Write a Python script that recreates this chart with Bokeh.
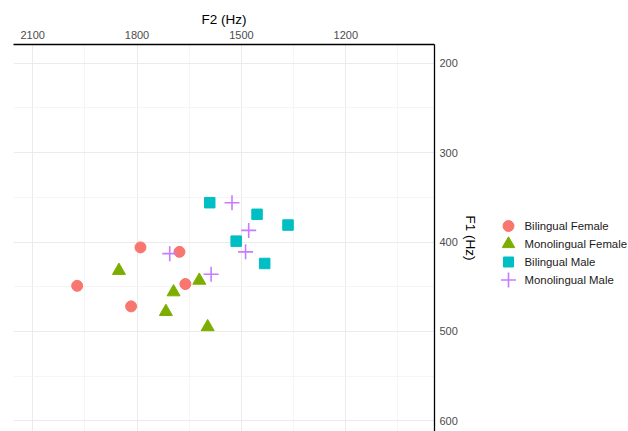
from bokeh.plotting import figure
from bokeh.models import Range1d, FixedTicker
from bokeh.layouts import row
from bokeh.core.properties import value
from bokeh.embed import file_html
from bokeh.resources import INLINE

# ---- data ----
groups = ["Bilingual Female", "Monolingual Female", "Bilingual Male", "Monolingual Male"]
bf_f2 = [1790, 1678, 1972, 1661, 1817]
bf_f1 = [406, 411, 449, 447, 472]
mf_f2 = [1852, 1695, 1621, 1717, 1597]
mf_f1 = [432, 456, 443, 478, 495]
bm_f2 = [1591, 1455, 1366, 1515, 1433]
bm_f1 = [356, 369, 381, 399, 424]
mm_f2 = [1527, 1479, 1488, 1706, 1587]
mm_f1 = [356, 387, 411, 413, 436]
f2_ticks = [2100, 1800, 1500, 1200]
f2_minor = [1950, 1650, 1350, 1050]
f1_ticks = [200, 300, 400, 500, 600]
f1_minor = [250, 350, 450, 550]

colors = ["#F8766D", "#7CAE00", "#00BFC4", "#C77CFF"]
markers = ["circle", "triangle", "square", "cross"]
sizes = [11, 13, 10.5, 15]
legend_sizes = [11, 12.5, 10, 15]

FONT = "Liberation Sans"
W1 = 480
W2 = 628 - W1
H = 431
TOP = 44

p = figure(width=W1, height=H,
           x_range=Range1d(2155, 945), y_range=Range1d(612, 179),
           x_axis_location="above", y_axis_location="right",
           output_backend="svg", toolbar_location=None,
           min_border_left=13, min_border_top=TOP, min_border_bottom=0,
           min_border_right=45)
p.outline_line_color = None
p.background_fill_color = "white"
p.border_fill_color = "white"

for ax, lab, ticks, minor in ((p.xaxis, "F2 (Hz)", f2_ticks, f2_minor),
                              (p.yaxis, "F1 (Hz)", f1_ticks, f1_minor)):
    ax.ticker = FixedTicker(ticks=ticks, minor_ticks=minor)
    ax.axis_label = lab
    ax.axis_label_text_font = FONT
    ax.axis_label_text_font_size = "13.5px"
    ax.axis_label_text_font_style = "normal"
    ax.axis_label_text_color = "black"
    ax.major_label_text_font = FONT
    ax.major_label_text_font_size = "11px"
    ax.major_label_text_color = "#4D4D4D"
    ax.major_tick_line_color = None
    ax.minor_tick_line_color = None
    ax.major_tick_out = 0
    ax.major_tick_in = 0
    ax.axis_line_color = "black"
    ax.axis_line_width = 1.3
p.xaxis.major_label_standoff = 2
p.xaxis.axis_label_standoff = 1
p.yaxis.major_label_standoff = 1
p.yaxis.axis_label_standoff = 2

for g in (p.xgrid, p.ygrid):
    g.grid_line_color = "#EBEBEB"
    g.grid_line_width = 1
    g.minor_grid_line_color = "#F3F3F3"
    g.minor_grid_line_width = 0.8

data = [(bf_f2, bf_f1), (mf_f2, mf_f1), (bm_f2, bm_f1), (mm_f2, mm_f1)]
for (xs, ys), c, m, s in zip(data, colors, markers, sizes):
    if m == "cross":
        p.scatter(xs, ys, marker=m, size=s, line_color=c, line_width=1.6)
    else:
        p.scatter(xs, ys, marker=m, size=s, fill_color=c, line_color=c)

# ---- legend panel (separate figure, one row per group) ----
# its frame is aligned with the main frame (top at TOP px, bottom at H px)
rows = list(range(len(groups)))
row_px = 18.0          # row pitch in pixels
first_px = 225.5       # centre of first row from the page top
top_v = -(first_px - TOP) / row_px
bot_v = top_v + (H - TOP) / row_px
lg = figure(width=W2, height=H, x_range=Range1d(0, W2), y_range=Range1d(bot_v, top_v),
            output_backend="svg", toolbar_location=None,
            x_axis_type=None, y_axis_type=None,
            min_border_left=0, min_border_right=0,
            min_border_top=TOP, min_border_bottom=0)
lg.title = None
lg.outline_line_color = None
lg.xgrid.visible = False
lg.ygrid.visible = False
lg.background_fill_color = "white"
lg.border_fill_color = "white"

key_x = 508 - W1
text_x = 524 - W1
lg.scatter([key_x] * len(groups), rows, marker=markers, size=legend_sizes,
           fill_color=colors, line_color=colors,
           line_width=[1, 1, 1, 1.6])
lg.text([text_x] * len(groups), rows, text=groups,
        text_font=value(FONT), text_font_size="11.4px",
        text_baseline="middle", text_align="left", text_color="#1A1A1A")

layout = row(p, lg, spacing=0)
open("out.html", "w").write(file_html(layout, INLINE))
